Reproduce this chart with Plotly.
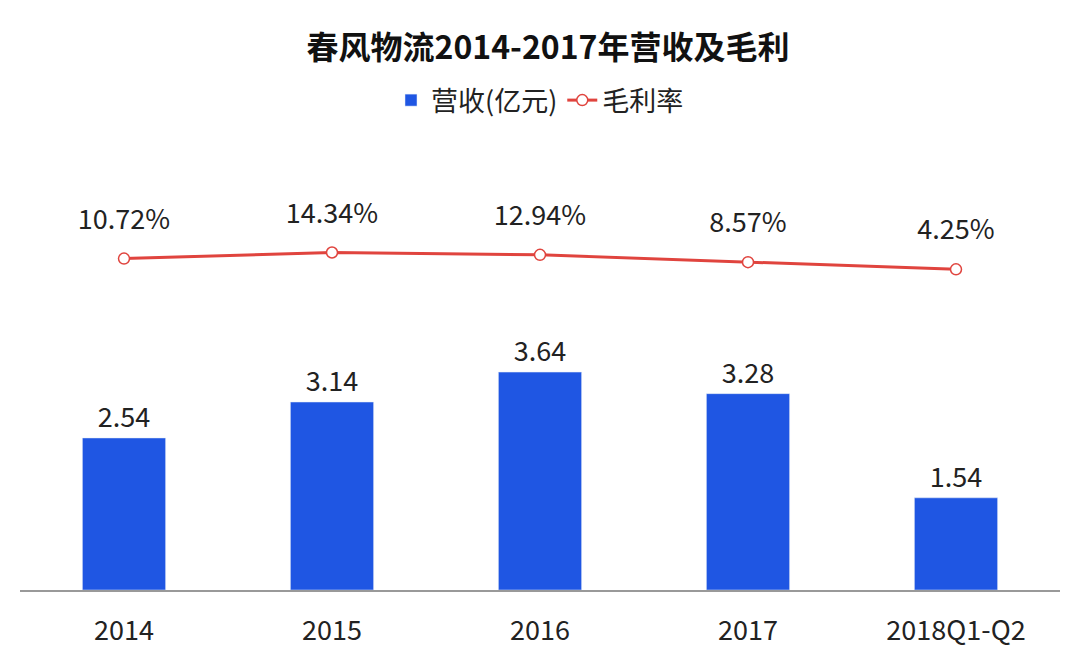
import plotly.graph_objects as go

years = ["2014", "2015", "2016", "2017", "2018Q1-Q2"]
revenue = [2.54, 3.14, 3.64, 3.28, 1.54]
margin = [10.72, 14.34, 12.94, 8.57, 4.25]

font = "Noto Sans CJK SC"
label_lift = 22  # percentage-axis units to lift the rate labels above the line

fig = go.Figure()
fig.add_trace(go.Bar(
    x=years, y=revenue, name="营收(亿元)", width=0.4,
    marker_color="#1f56e3",
    text=[f"{v:.2f}" for v in revenue], textposition="outside",
    textfont=dict(size=27, color="#222"), cliponaxis=False,
))
fig.add_trace(go.Scatter(
    x=years, y=margin, name="毛利率", yaxis="y2", mode="lines+markers",
    line=dict(color="#e0443e", width=3),
    marker=dict(size=11, color="white", line=dict(color="#e0443e", width=1.5)),
))
fig.add_trace(go.Scatter(
    x=years, y=[m + label_lift for m in margin], yaxis="y2", mode="text",
    text=[f"{v:.2f}%" for v in margin], showlegend=False, hoverinfo="skip",
    textfont=dict(size=27, color="#222"),
))
fig.update_layout(
    width=1080, height=657,
    paper_bgcolor="white", plot_bgcolor="white",
    font=dict(family=font, color="#222"),
    title=dict(text="<b>春风物流2014-2017年营收及毛利</b>", x=0.5, y=0.94,
               xanchor="center", yanchor="middle", font=dict(size=32, color="#111")),
    legend=dict(orientation="h", x=0.5, xanchor="center", y=1.12, yanchor="middle",
                font=dict(size=27), traceorder="normal"),
    margin=dict(l=12, r=28, t=145, b=75),
    showlegend=True,
    xaxis=dict(showline=True, linecolor="#999", linewidth=1.5, ticks="",
               ticklabelstandoff=16, tickfont=dict(size=27, color="#222")),
    yaxis=dict(range=[0, 7.3], visible=False),
    yaxis2=dict(range=[-188, 74], overlaying="y", visible=False),
)
fig.write_html("out.html")
